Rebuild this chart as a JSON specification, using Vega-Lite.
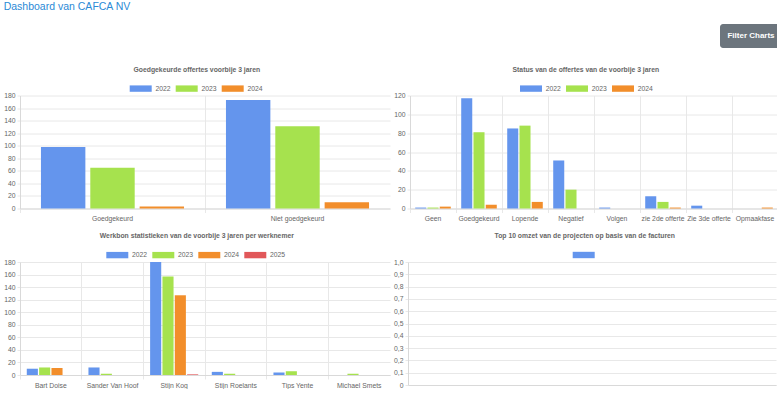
{
  "$schema": "https://vega.github.io/schema/vega-lite/v6.json",
  "padding": {"left": 3, "top": 1, "right": 0, "bottom": 0},
  "title": {"text": "Dashboard van CAFCA NV", "anchor": "start", "frame": "bounds", "fontSize": 10.5, "fontWeight": "normal", "color": "#2b8ad6", "dx": 0, "offset": 12},
  "spacing": 10.5,
  "resolve": {"scale": {"x": "independent", "y": "independent", "xOffset": "independent", "color": "independent"}, "legend": {"color": "independent"}, "axis": {"x": "independent", "y": "independent"}},
  "vconcat": [
    {
      "spacing": 0,
      "hconcat": [
        {"width": 699.5, "height": 32, "data": {"values": []}, "mark": "text"},
        {
          "width": 62, "height": 24,
          "view": {"fill": "#6c757d", "stroke": null, "cornerRadius": 3},
          "data": {"values": [{"label": "Filter Charts"}]},
          "mark": {"type": "text", "color": "#ffffff", "fontSize": 8, "fontWeight": "bold", "font": "Liberation Sans"},
          "encoding": {"text": {"field": "label", "type": "nominal"}}
        }
      ]
    },
    {
      "spacing": 3,
      "resolve": {"scale": {"x": "independent", "y": "independent", "xOffset": "independent", "color": "independent"}, "legend": {"color": "independent"}, "axis": {"x": "independent", "y": "independent"}},
      "hconcat": [
        {
          "width": 370, "height": 113,
          "title": {"text": "Goedgekeurde offertes voorbije 3 jaren", "offset": 4},
          "data": {"values": [
            {"cat": "Goedgekeurd", "jaar": "2022", "n": 98},
            {"cat": "Goedgekeurd", "jaar": "2023", "n": 65},
            {"cat": "Goedgekeurd", "jaar": "2024", "n": 3},
            {"cat": "Niet goedgekeurd", "jaar": "2022", "n": 173},
            {"cat": "Niet goedgekeurd", "jaar": "2023", "n": 131},
            {"cat": "Niet goedgekeurd", "jaar": "2024", "n": 10}
          ]},
          "mark": "bar",
          "encoding": {
            "x": {"field": "cat", "type": "nominal", "sort": null, "scale": {"paddingInner": 0, "paddingOuter": 0}, "axis": {"bandPosition": 0}},
            "xOffset": {"field": "jaar", "type": "nominal", "scale": {"paddingInner": 0.1, "paddingOuter": 0.425}},
            "y": {"field": "n", "type": "quantitative", "scale": {"domain": [0, 180]}, "axis": {"values": [0, 20, 40, 60, 80, 100, 120, 140, 160, 180]}},
            "color": {"field": "jaar", "type": "nominal", "scale": {"domain": ["2022", "2023", "2024"], "range": ["#6495ed", "#a6e24e", "#f28e2b"]}, "legend": {"legendX": 109.7, "legendY": -18}}
          }
        },
        {
          "width": 368, "height": 113,
          "title": {"text": "Status van de offertes van de voorbije 3 jaren", "offset": 4},
          "data": {"values": [
            {"cat": "Geen", "jaar": "2022", "n": 1},
            {"cat": "Geen", "jaar": "2023", "n": 1},
            {"cat": "Geen", "jaar": "2024", "n": 2},
            {"cat": "Goedgekeurd", "jaar": "2022", "n": 117},
            {"cat": "Goedgekeurd", "jaar": "2023", "n": 81},
            {"cat": "Goedgekeurd", "jaar": "2024", "n": 4},
            {"cat": "Lopende", "jaar": "2022", "n": 85},
            {"cat": "Lopende", "jaar": "2023", "n": 88},
            {"cat": "Lopende", "jaar": "2024", "n": 7},
            {"cat": "Negatief", "jaar": "2022", "n": 51},
            {"cat": "Negatief", "jaar": "2023", "n": 20},
            {"cat": "Negatief", "jaar": "2024", "n": 0},
            {"cat": "Volgen", "jaar": "2022", "n": 1},
            {"cat": "Volgen", "jaar": "2023", "n": 0},
            {"cat": "Volgen", "jaar": "2024", "n": 0},
            {"cat": "zie 2de offerte", "jaar": "2022", "n": 13},
            {"cat": "zie 2de offerte", "jaar": "2023", "n": 7},
            {"cat": "zie 2de offerte", "jaar": "2024", "n": 1},
            {"cat": "Zie 3de offerte", "jaar": "2022", "n": 3},
            {"cat": "Zie 3de offerte", "jaar": "2023", "n": 0},
            {"cat": "Zie 3de offerte", "jaar": "2024", "n": 0},
            {"cat": "Opmaakfase", "jaar": "2022", "n": 0},
            {"cat": "Opmaakfase", "jaar": "2023", "n": 0},
            {"cat": "Opmaakfase", "jaar": "2024", "n": 1}
          ]},
          "mark": "bar",
          "encoding": {
            "x": {"field": "cat", "type": "nominal", "sort": null, "scale": {"paddingInner": 0, "paddingOuter": 0}, "axis": {"bandPosition": 0}},
            "xOffset": {"field": "jaar", "type": "nominal", "scale": {"paddingInner": 0.1, "paddingOuter": 0.425}},
            "y": {"field": "n", "type": "quantitative", "scale": {"domain": [0, 120]}, "axis": {"values": [0, 20, 40, 60, 80, 100, 120]}},
            "color": {"field": "jaar", "type": "nominal", "scale": {"domain": ["2022", "2023", "2024"], "range": ["#6495ed", "#a6e24e", "#f28e2b"]}, "legend": {"legendX": 110, "legendY": -18}}
          }
        }
      ]
    },
    {
      "spacing": 3,
      "resolve": {"scale": {"x": "independent", "y": "independent", "xOffset": "independent", "color": "independent"}, "legend": {"color": "independent"}, "axis": {"x": "independent", "y": "independent"}},
      "hconcat": [
        {
          "width": 370, "height": 113,
          "title": {"text": "Werkbon statistieken van de voorbije 3 jaren per werknemer", "offset": 4},
          "data": {"values": [
            {"cat": "Bart Doise", "jaar": "2022", "n": 10},
            {"cat": "Bart Doise", "jaar": "2023", "n": 12},
            {"cat": "Bart Doise", "jaar": "2024", "n": 11},
            {"cat": "Bart Doise", "jaar": "2025", "n": 0},
            {"cat": "Sander Van Hoof", "jaar": "2022", "n": 12},
            {"cat": "Sander Van Hoof", "jaar": "2023", "n": 2},
            {"cat": "Sander Van Hoof", "jaar": "2024", "n": 0},
            {"cat": "Sander Van Hoof", "jaar": "2025", "n": 0},
            {"cat": "Stijn Kog", "jaar": "2022", "n": 180},
            {"cat": "Stijn Kog", "jaar": "2023", "n": 157},
            {"cat": "Stijn Kog", "jaar": "2024", "n": 127},
            {"cat": "Stijn Kog", "jaar": "2025", "n": 1},
            {"cat": "Stijn Roelants", "jaar": "2022", "n": 5},
            {"cat": "Stijn Roelants", "jaar": "2023", "n": 2},
            {"cat": "Stijn Roelants", "jaar": "2024", "n": 0},
            {"cat": "Stijn Roelants", "jaar": "2025", "n": 0},
            {"cat": "Tips Yente", "jaar": "2022", "n": 4},
            {"cat": "Tips Yente", "jaar": "2023", "n": 6},
            {"cat": "Tips Yente", "jaar": "2024", "n": 0},
            {"cat": "Tips Yente", "jaar": "2025", "n": 0},
            {"cat": "Michael Smets", "jaar": "2022", "n": 0},
            {"cat": "Michael Smets", "jaar": "2023", "n": 2},
            {"cat": "Michael Smets", "jaar": "2024", "n": 0},
            {"cat": "Michael Smets", "jaar": "2025", "n": 0}
          ]},
          "mark": "bar",
          "encoding": {
            "x": {"field": "cat", "type": "nominal", "sort": null, "scale": {"paddingInner": 0, "paddingOuter": 0}, "axis": {"bandPosition": 0}},
            "xOffset": {"field": "jaar", "type": "nominal", "scale": {"paddingInner": 0.1, "paddingOuter": 0.55}},
            "y": {"field": "n", "type": "quantitative", "scale": {"domain": [0, 180]}, "axis": {"values": [0, 20, 40, 60, 80, 100, 120, 140, 160, 180]}},
            "color": {"field": "jaar", "type": "nominal", "scale": {"domain": ["2022", "2023", "2024", "2025"], "range": ["#6495ed", "#a6e24e", "#f28e2b", "#e15759"]}, "legend": {"legendX": 86.3, "legendY": -18}}
          }
        },
        {
          "width": 368, "height": 123,
          "title": {"text": "Top 10 omzet van de projecten op basis van de facturen", "offset": 4},
          "data": {"values": [{"project": "", "omzet": null}]},
          "mark": "bar",
          "encoding": {
            "x": {"field": "project", "type": "nominal", "axis": {"labels": false, "ticks": false, "grid": false}},
            "y": {"field": "omzet", "type": "quantitative", "scale": {"domain": [0, 1]}, "axis": {"values": [0, 0.1, 0.2, 0.3, 0.4, 0.5, 0.6, 0.7, 0.8, 0.9, 1], "labelExpr": "datum.value == 0 ? '0' : replace(format(datum.value, '.1f'), '.', ',')"}},
            "color": {"field": "project", "type": "nominal", "scale": {"domain": [""], "range": ["#6495ed"]}, "legend": {"legendX": 164.7, "legendY": -18}}
          }
        }
      ]
    }
  ],
  "config": {
    "font": "Liberation Sans",
    "view": {"stroke": null},
    "axis": {"title": null, "labelFont": "Liberation Sans", "labelFontSize": 6.8, "labelColor": "#666666", "gridColor": "#e8e8e8", "domainColor": "#d9d9d9", "tickColor": "#e8e8e8", "grid": true},
    "axisX": {"labelAngle": 0, "tickSize": 4, "labelPadding": 3},
    "axisY": {"tickSize": 3, "labelPadding": 2},
    "title": {"fontSize": 6.8, "fontWeight": "bold", "color": "#666666", "frame": "bounds", "anchor": "middle"},
    "legend": {"orient": "none", "direction": "horizontal", "title": null, "symbolType": "M-1,-0.29H1V0.29H-1Z", "symbolSize": 484, "symbolStrokeWidth": 0, "symbolOpacity": 1, "labelFontSize": 6.8, "labelColor": "#666666", "labelOffset": 3.7, "columnPadding": 5}
  }
}
